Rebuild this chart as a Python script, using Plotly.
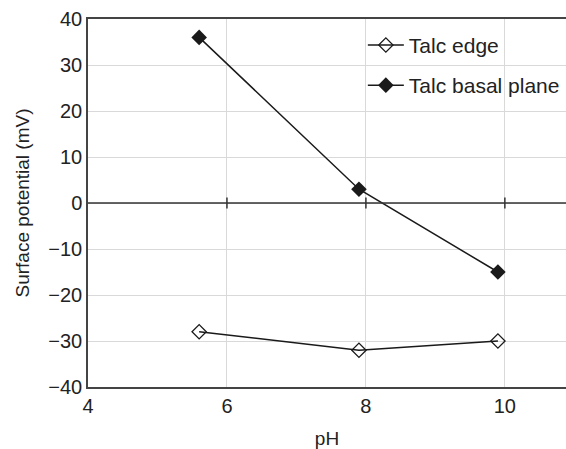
import plotly.graph_objects as go

ph = [5.6, 7.9, 9.9]
edge = [-28, -32, -30]
basal = [36, 3, -15]
xticks = [4, 6, 8, 10]
yticks = [-40, -30, -20, -10, 0, 10, 20, 30, 40]

fig = go.Figure()
fig.add_trace(go.Scatter(x=ph, y=edge, mode="lines+markers", name="Talc edge",
                         line=dict(color="#1a1a1a", width=1.5),
                         marker=dict(symbol="diamond-open", size=11, color="#1a1a1a", line=dict(width=1.3)),
                         legend="legend"))
fig.add_trace(go.Scatter(x=ph, y=basal, mode="lines+markers", name="Talc basal plane",
                         line=dict(color="#1a1a1a", width=1.5),
                         marker=dict(symbol="diamond", size=12, color="#1a1a1a"),
                         legend="legend2"))
# tick marks on the zero line
fig.add_trace(go.Scatter(x=xticks[1:], y=[0] * 3, mode="markers", showlegend=False, hoverinfo="skip",
                         marker=dict(symbol="line-ns", size=8, line=dict(color="#333", width=1.5))))

fig.add_hline(y=0, line=dict(color="#333", width=1.5), layer="above")

fig.update_layout(
    width=566, height=449,
    margin=dict(l=88, r=0, t=19, b=62),
    paper_bgcolor="white", plot_bgcolor="white",
    font=dict(family="Liberation Sans, Arial, sans-serif", size=20, color="#222"),
    xaxis=dict(range=[4, 10.88], tickvals=xticks, showgrid=True, gridcolor="#d9d9d9", gridwidth=1.2,
               showline=True, linecolor="#444", linewidth=1.5, mirror=True, ticks="",
               zeroline=False, automargin=False, title=dict(text="pH", standoff=18, font=dict(size=19)),
               tickfont=dict(size=20)),
    yaxis=dict(range=[-40, 40], tickvals=yticks, ticktext=[str(v).replace("-", "\u2212") for v in yticks],
               showgrid=True, gridcolor="#d9d9d9", gridwidth=1.2,
               showline=True, linecolor="#444", linewidth=1.5, ticks="", zeroline=False, automargin=False,
               title=dict(text="Surface potential (mV)", standoff=14, font=dict(size=19)),
               tickfont=dict(size=20)),
    legend=dict(x=0.575, y=0.984, xanchor="left", yanchor="top", bgcolor="rgba(0,0,0,0)",
                font=dict(size=21), itemwidth=36),
    legend2=dict(x=0.575, y=0.875, xanchor="left", yanchor="top", bgcolor="rgba(0,0,0,0)",
                 font=dict(size=21), itemwidth=36),
)

fig.write_html("out.html", config={"displayModeBar": False},
               post_script="document.body.style.margin='0';document.body.style.overflow='hidden';")
